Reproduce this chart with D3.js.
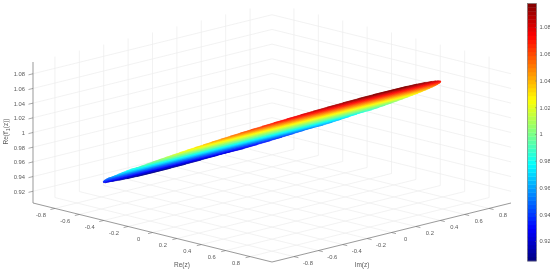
<!DOCTYPE html>
<html>
<head>
<meta charset="utf-8">
<script src="https://d3js.org/d3.v7.min.js"></script>
<style>
  html, body { margin: 0; padding: 0; background: #fff; }
  svg { display: block; filter: blur(0.35px); }
  text { font-family: "Liberation Sans", Arial, sans-serif; font-size: 5.8px; fill: #5a5a5a; }
</style>
</head>
<body>
<div id="chart"></div>
<script>
const width = 550;
const height = 271;

const planeTicks = [-0.8, -0.6, -0.4, -0.2, 0, 0.2, 0.4, 0.6, 0.8];
const heightTicks = [0.92, 0.94, 0.96, 0.98, 1, 1.02, 1.04, 1.06, 1.08];

// one chord of the disc per Re(z) value
const reSamples = [-0.98, -0.97, -0.95, -0.92, -0.88, -0.84, -0.80, -0.75, -0.70, -0.65, -0.60, -0.55, -0.50, -0.45, -0.40, -0.35, -0.30, -0.25, -0.20, -0.15, -0.10, -0.05, 0,
  0.05, 0.10, 0.15, 0.20, 0.25, 0.30, 0.35, 0.40, 0.45, 0.50, 0.55, 0.60, 0.65, 0.70, 0.75, 0.80, 0.84, 0.88, 0.92, 0.95, 0.97, 0.98];
const imEdge = [0, 0.14, 0.241, 0.338, 0.431, 0.505, 0.566, 0.631, 0.686, 0.733, 0.775, 0.811, 0.843, 0.871, 0.895, 0.915, 0.933, 0.948, 0.959, 0.968, 0.975, 0.979, 0.98,
  0.979, 0.975, 0.968, 0.959, 0.948, 0.933, 0.915, 0.895, 0.871, 0.843, 0.811, 0.775, 0.733, 0.686, 0.631, 0.566, 0.505, 0.431, 0.338, 0.241, 0.14, 0];
const fValues = [0.905, 0.906, 0.908, 0.911, 0.915, 0.919, 0.922, 0.927, 0.932, 0.937, 0.942, 0.947, 0.952, 0.956, 0.961, 0.966, 0.971, 0.976, 0.981, 0.985, 0.990, 0.995, 1,
  1.005, 1.010, 1.015, 1.020, 1.025, 1.030, 1.035, 1.040, 1.045, 1.050, 1.055, 1.060, 1.065, 1.070, 1.075, 1.080, 1.084, 1.088, 1.092, 1.095, 1.097, 1.0976];

const planeMax = 0.98;
const zMin = 0.904, zMax = 1.096;
const colorMin = 0.905, colorMax = 1.0976;

// oblique projection, each data axis adds its own pixel offset
const reX = d3.scaleLinear().domain([-planeMax, planeMax]).range([-119.5, 119.5]);
const reY = d3.scaleLinear().domain([-planeMax, planeMax]).range([-29.5, 29.5]);
const imX = d3.scaleLinear().domain([-planeMax, planeMax]).range([-119.5, 119.5]);
const imY = d3.scaleLinear().domain([-planeMax, planeMax]).range([29.5, -29.5]);
const zY = d3.scaleLinear().domain([zMin, zMax]).range([203, 62]);

function project(re, im, z) {
  return [272 + reX(re) + imX(im), zY(z) + reY(re) + imY(im)];
}

const jet = d3.scaleLinear()
  .domain([0, 0.125, 0.375, 0.625, 0.875, 1].map(t => colorMin + t * (colorMax - colorMin)))
  .range(["#00007f", "#0000ff", "#00ffff", "#ffff00", "#ff0000", "#7f0000"])
  .clamp(true);

const svg = d3.select("#chart").append("svg")
  .attr("width", width)
  .attr("height", height);

function addLine(g, a, b, color, w) {
  g.append("line")
    .attr("x1", a[0]).attr("y1", a[1])
    .attr("x2", b[0]).attr("y2", b[1])
    .attr("stroke", color)
    .attr("stroke-width", w);
}

// grid on the two back walls and the floor
const grid = svg.append("g");
const gridColor = "#ececec";

heightTicks.forEach(z => {
  addLine(grid, project(-planeMax, -planeMax, z), project(-planeMax, planeMax, z), gridColor, 0.7);
  addLine(grid, project(-planeMax, planeMax, z), project(planeMax, planeMax, z), gridColor, 0.7);
});
planeTicks.forEach(t => {
  addLine(grid, project(-planeMax, t, zMin), project(-planeMax, t, zMax), gridColor, 0.7);
  addLine(grid, project(t, planeMax, zMin), project(t, planeMax, zMax), gridColor, 0.7);
  addLine(grid, project(t, -planeMax, zMin), project(t, planeMax, zMin), gridColor, 0.7);
  addLine(grid, project(-planeMax, t, zMin), project(planeMax, t, zMin), gridColor, 0.7);
});

// surface, one band between neighbouring chords
const surface = svg.append("g");
const bands = d3.pairs(d3.range(reSamples.length));

surface.selectAll("path")
  .data(bands)
  .join("path")
  .attr("d", ([i, j]) => {
    const pts = [
      project(reSamples[i], -imEdge[i], fValues[i]),
      project(reSamples[i], imEdge[i], fValues[i]),
      project(reSamples[j], imEdge[j], fValues[j]),
      project(reSamples[j], -imEdge[j], fValues[j])
    ];
    return d3.line()(pts) + "Z";
  })
  .attr("fill", ([i, j]) => jet((fValues[i] + fValues[j]) / 2))
  .attr("stroke", ([i, j]) => jet((fValues[i] + fValues[j]) / 2))
  .attr("stroke-width", 0.4);

// axes
const axes = svg.append("g");
const axisColor = "#6e6e6e";

addLine(axes, project(-planeMax, -planeMax, zMin), project(-planeMax, -planeMax, zMax), axisColor, 0.7);
addLine(axes, project(-planeMax, -planeMax, zMin), project(planeMax, -planeMax, zMin), axisColor, 0.7);
addLine(axes, project(planeMax, -planeMax, zMin), project(planeMax, planeMax, zMin), axisColor, 0.7);

planeTicks.forEach(t => {
  const a = project(t, -planeMax, zMin);
  const b = project(planeMax, t, zMin);
  addLine(axes, a, [a[0] - 4.5, a[1] + 1.1], axisColor, 0.6);
  axes.append("text")
    .attr("x", a[0] - 14).attr("y", a[1] + 8.5)
    .attr("text-anchor", "middle")
    .text(t);

  addLine(axes, b, [b[0] + 4.5, b[1] + 1.1], axisColor, 0.6);
  axes.append("text")
    .attr("x", b[0] + 14).attr("y", b[1] + 8.5)
    .attr("text-anchor", "middle")
    .text(t);
});

heightTicks.forEach(z => {
  const a = project(-planeMax, -planeMax, z);
  addLine(axes, a, [a[0] - 4.5, a[1] + 1.1], axisColor, 0.6);
  axes.append("text")
    .attr("x", 25).attr("y", a[1] + 2.5)
    .attr("text-anchor", "end")
    .text(z);
});

axes.append("text")
  .attr("x", 182).attr("y", 266.5)
  .attr("text-anchor", "middle")
  .style("font-size", "6.5px")
  .text("Re(z)");

axes.append("text")
  .attr("x", 362).attr("y", 266.5)
  .attr("text-anchor", "middle")
  .style("font-size", "6.5px")
  .text("Im(z)");

const zLabel = axes.append("text")
  .attr("transform", "translate(8,131.5) rotate(-90)")
  .attr("text-anchor", "middle")
  .style("font-size", "6.5px");
zLabel.append("tspan").text("Re(f'");
zLabel.append("tspan").attr("dy", 1.5).style("font-size", "5px").text("1");
zLabel.append("tspan").attr("dy", -1.5).text("(z))");

// colorbar
const colorbarY = d3.scaleLinear().domain([colorMin, colorMax]).range([261, 3.5]);
const colorbar = svg.append("g");
const steps = d3.range(64);

colorbar.selectAll("rect")
  .data(steps)
  .join("rect")
  .attr("x", 527.5)
  .attr("width", 9)
  .attr("y", s => colorbarY(colorMin + (s + 1) / 64 * (colorMax - colorMin)))
  .attr("height", (colorbarY.range()[0] - colorbarY.range()[1]) / 64 + 0.3)
  .attr("fill", s => jet(colorMin + (s + 0.5) / 64 * (colorMax - colorMin)));

colorbar.append("rect")
  .attr("x", 527.5).attr("y", 3.5)
  .attr("width", 9).attr("height", 257.5)
  .attr("fill", "none")
  .attr("stroke", axisColor)
  .attr("stroke-width", 0.6);

const colorAxis = d3.axisRight(colorbarY)
  .tickValues(heightTicks)
  .tickFormat(d => d)
  .tickSize(-1.5)
  .tickPadding(3);

colorbar.append("g")
  .attr("transform", "translate(536.5,0)")
  .call(colorAxis)
  .call(g => g.select(".domain").remove())
  .call(g => g.selectAll("line").attr("stroke", axisColor).attr("stroke-width", 0.5))
  .call(g => g.selectAll("text").attr("font-family", null).attr("font-size", null));
colorbar.select("g").attr("font-size", null).attr("font-family", null);
</script>
</body>
</html>
